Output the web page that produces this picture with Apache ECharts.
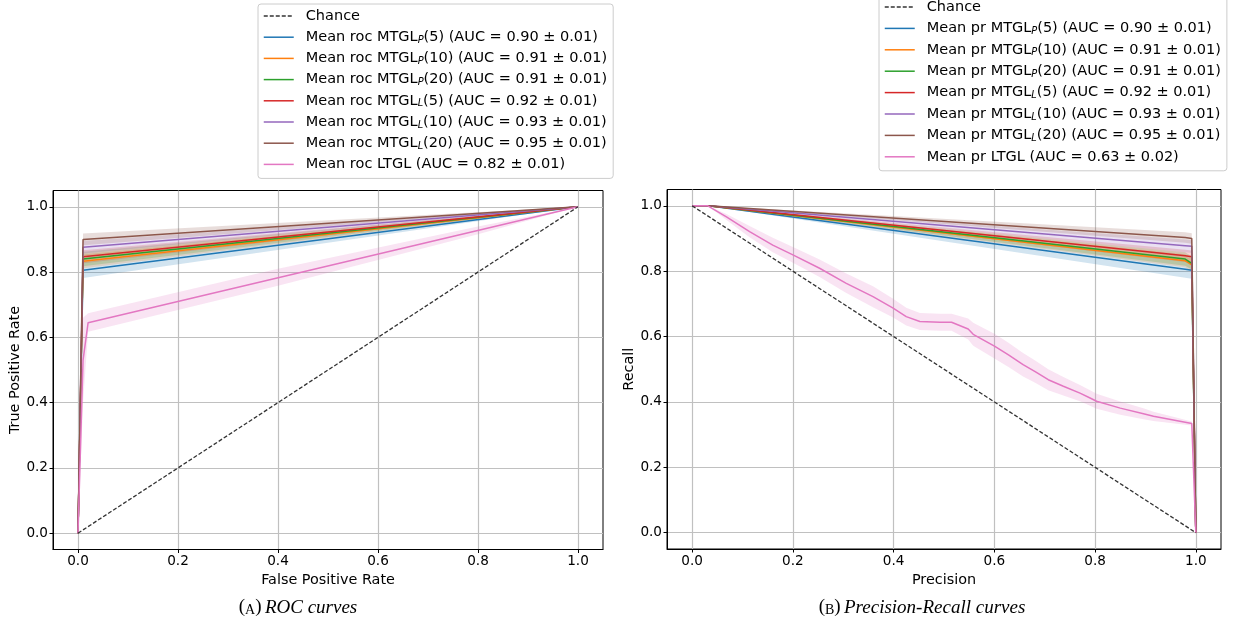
<!DOCTYPE html>
<html>
<head>
<meta charset="utf-8">
<script src="https://cdn.jsdelivr.net/npm/echarts@6/dist/echarts.min.js"></script>
<style>
html,body{margin:0;padding:0;background:#fff;}
#chart{width:1242px;height:628px;}
</style>
</head>
<body>
<div id="chart"></div>
<script>
// ---------------- data ----------------
const TICKS = [0, 0.2, 0.4, 0.6, 0.8, 1.0];
const COLORS = ['#1f77b4', '#ff7f0e', '#2ca02c', '#d62728', '#9467bd', '#8c564b', '#e377c2'];

const ROC_NAMES = [
  'Mean roc MTGL_P(5) (AUC = 0.90 ± 0.01)',
  'Mean roc MTGL_P(10) (AUC = 0.91 ± 0.01)',
  'Mean roc MTGL_P(20) (AUC = 0.91 ± 0.01)',
  'Mean roc MTGL_L(5) (AUC = 0.92 ± 0.01)',
  'Mean roc MTGL_L(10) (AUC = 0.93 ± 0.01)',
  'Mean roc MTGL_L(20) (AUC = 0.95 ± 0.01)',
  'Mean roc LTGL (AUC = 0.82 ± 0.01)'
];
const PR_NAMES = [
  'Mean pr MTGL_P(5) (AUC = 0.90 ± 0.01)',
  'Mean pr MTGL_P(10) (AUC = 0.91 ± 0.01)',
  'Mean pr MTGL_P(20) (AUC = 0.91 ± 0.01)',
  'Mean pr MTGL_L(5) (AUC = 0.92 ± 0.01)',
  'Mean pr MTGL_L(10) (AUC = 0.93 ± 0.01)',
  'Mean pr MTGL_L(20) (AUC = 0.95 ± 0.01)',
  'Mean pr LTGL (AUC = 0.63 ± 0.02)'
];

// Chance lines
const CHANCE_X = [0, 1];
const CHANCE_ROC_Y = [0, 1];
const CHANCE_PR_Y = [1, 0];

// ROC: MTGL curves (false positive rate -> true positive rate)
const ROC_MTGL_X = [0, 0.0101, 1];
const ROC_P5  = [0, 0.806, 1];
const ROC_P10 = [0, 0.833, 1];
const ROC_P20 = [0, 0.840, 1];
const ROC_L5  = [0, 0.847, 1];
const ROC_L10 = [0, 0.876, 1];
const ROC_L20 = [0, 0.900, 1];
const ROC_P5_LO  = [0, 0.782, 1], ROC_P5_HI  = [0, 0.830, 1];
const ROC_P10_LO = [0, 0.812, 1], ROC_P10_HI = [0, 0.854, 1];
const ROC_P20_LO = [0, 0.818, 1], ROC_P20_HI = [0, 0.862, 1];
const ROC_L5_LO  = [0, 0.827, 1], ROC_L5_HI  = [0, 0.867, 1];
const ROC_L10_LO = [0, 0.857, 1], ROC_L10_HI = [0, 0.895, 1];
const ROC_L20_LO = [0, 0.882, 1], ROC_L20_HI = [0, 0.918, 1];
// ROC: LTGL
const ROC_LTGL_X = [0, 0.0101, 0.0202, 1];
const ROC_LTGL   = [0, 0.53, 0.645, 1];
const ROC_LTGL_BAND_X = [0, 0.0101, 0.0202, 0.4, 0.8, 1];
const ROC_LTGL_LO = [0, 0.40, 0.617, 0.758, 0.916, 1];
const ROC_LTGL_HI = [0, 0.66, 0.674, 0.810, 0.940, 1];

// PR: MTGL curves (precision -> recall)
const PR_MTGL_X = [0, 0.032, 0.979, 0.992, 1.0];
const PR_P5  = [1, 1, 0.806, 0.803, 0];
const PR_P10 = [1, 1, 0.832, 0.819, 0];
const PR_P20 = [1, 1, 0.837, 0.824, 0];
const PR_L5  = [1, 1, 0.847, 0.844, 0];
const PR_L10 = [1, 1, 0.878, 0.876, 0];
const PR_L20 = [1, 1, 0.903, 0.900, 0];
const PR_P5_LO  = [1, 1, 0.780, 0.777, 0], PR_P5_HI  = [1, 1, 0.830, 0.828, 0];
const PR_P10_LO = [1, 1, 0.812, 0.800, 0], PR_P10_HI = [1, 1, 0.852, 0.840, 0];
const PR_P20_LO = [1, 1, 0.817, 0.805, 0], PR_P20_HI = [1, 1, 0.858, 0.845, 0];
const PR_L5_LO  = [1, 1, 0.828, 0.825, 0], PR_L5_HI  = [1, 1, 0.866, 0.863, 0];
const PR_L10_LO = [1, 1, 0.858, 0.856, 0], PR_L10_HI = [1, 1, 0.897, 0.895, 0];
const PR_L20_LO = [1, 1, 0.887, 0.884, 0], PR_L20_HI = [1, 1, 0.919, 0.916, 0];
// PR: LTGL
const PR_LTGL_X = [0, 0.031, 0.068, 0.114, 0.160, 0.200, 0.253, 0.306, 0.359, 0.399, 0.425, 0.452, 0.492, 0.515, 0.548, 0.558, 0.601, 0.628, 0.657, 0.681, 0.707, 0.737, 0.770, 0.790, 0.803, 0.850, 0.896, 0.916, 0.992, 1.0];
const PR_LTGL    = [1.0, 1.0, 0.966, 0.921, 0.880, 0.850, 0.809, 0.763, 0.722, 0.687, 0.661, 0.646, 0.644, 0.644, 0.623, 0.607, 0.570, 0.544, 0.514, 0.493, 0.468, 0.448, 0.427, 0.412, 0.402, 0.381, 0.364, 0.356, 0.334, 0.0];
const PR_LTGL_HI = [1.0, 1.0, 0.975, 0.938, 0.902, 0.874, 0.836, 0.793, 0.754, 0.716, 0.688, 0.672, 0.670, 0.670, 0.655, 0.642, 0.608, 0.581, 0.550, 0.527, 0.500, 0.476, 0.452, 0.436, 0.425, 0.401, 0.381, 0.370, 0.340, 0.0];
const PR_LTGL_LO = [1.0, 1.0, 0.957, 0.904, 0.858, 0.826, 0.782, 0.733, 0.690, 0.658, 0.634, 0.620, 0.618, 0.618, 0.591, 0.572, 0.532, 0.507, 0.478, 0.459, 0.436, 0.420, 0.402, 0.388, 0.379, 0.361, 0.347, 0.342, 0.328, 0.0];

// ---------------- chart ----------------
const FONT = 'DejaVu Sans';
const pairs = (xs, ys) => xs.map((x, i) => [x, ys[i]]);

function lineSeries(name, xs, ys, color, gi, extra) {
  return Object.assign({
    type: 'line', name: name, xAxisIndex: gi, yAxisIndex: gi,
    data: pairs(xs, ys), symbol: 'none', showSymbol: false, smooth: false,
    lineStyle: { color: color, width: 1.5 }, itemStyle: { color: color },
    z: 3, animation: false, silent: true
  }, extra || {});
}
function bandSeries(xs, lo, hi, color, gi) {
  return {
    type: 'custom', xAxisIndex: gi, yAxisIndex: gi, clip: true, silent: true, z: 2,
    data: [[xs[0], lo[0]]], animation: false,
    renderItem: function (params, api) {
      const pts = [];
      for (let i = 0; i < xs.length; i++) pts.push(api.coord([xs[i], hi[i]]));
      for (let i = xs.length - 1; i >= 0; i--) pts.push(api.coord([xs[i], lo[i]]));
      return { type: 'polygon', shape: { points: pts }, style: { fill: color, opacity: 0.2 } };
    }
  };
}

const rocCurves = [ROC_P5, ROC_P10, ROC_P20, ROC_L5, ROC_L10, ROC_L20];
const rocLo = [ROC_P5_LO, ROC_P10_LO, ROC_P20_LO, ROC_L5_LO, ROC_L10_LO, ROC_L20_LO];
const rocHi = [ROC_P5_HI, ROC_P10_HI, ROC_P20_HI, ROC_L5_HI, ROC_L10_HI, ROC_L20_HI];
const prCurves = [PR_P5, PR_P10, PR_P20, PR_L5, PR_L10, PR_L20];
const prLo = [PR_P5_LO, PR_P10_LO, PR_P20_LO, PR_L5_LO, PR_L10_LO, PR_L20_LO];
const prHi = [PR_P5_HI, PR_P10_HI, PR_P20_HI, PR_L5_HI, PR_L10_HI, PR_L20_HI];

const series = [];
const chanceStyle = { lineStyle: { color: '#333', width: 1.3, type: [4, 2] }, itemStyle: { color: '#333' }, z: 4 };
series.push(lineSeries('Chance', CHANCE_X, CHANCE_ROC_Y, '#333', 0, chanceStyle));
for (let k = 0; k < 6; k++) {
  series.push(bandSeries(ROC_MTGL_X, rocLo[k], rocHi[k], COLORS[k], 0));
  series.push(lineSeries(ROC_NAMES[k], ROC_MTGL_X, rocCurves[k], COLORS[k], 0));
}
series.push(bandSeries(ROC_LTGL_BAND_X, ROC_LTGL_LO, ROC_LTGL_HI, COLORS[6], 0));
series.push(lineSeries(ROC_NAMES[6], ROC_LTGL_X, ROC_LTGL, COLORS[6], 0));

series.push(lineSeries('Chance', CHANCE_X, CHANCE_PR_Y, '#333', 1, chanceStyle));
for (let k = 0; k < 6; k++) {
  series.push(bandSeries(PR_MTGL_X, prLo[k], prHi[k], COLORS[k], 1));
  series.push(lineSeries(PR_NAMES[k], PR_MTGL_X, prCurves[k], COLORS[k], 1));
}
series.push(bandSeries(PR_LTGL_X, PR_LTGL_LO, PR_LTGL_HI, COLORS[6], 1));
series.push(lineSeries(PR_NAMES[6], PR_LTGL_X, PR_LTGL, COLORS[6], 1));

const fmt = v => v.toFixed(1);
function xAxis(gi, name) {
  return {
    type: 'value', gridIndex: gi, min: -0.05, max: 1.05,
    name: name, nameLocation: 'middle', nameGap: 20,
    nameTextStyle: { fontFamily: FONT, fontSize: 14.4, color: '#000' },
    axisLine: { show: true, onZero: false, lineStyle: { color: '#000', width: 1 } },
    axisTick: { show: true, inside: false, length: 3.5, customValues: TICKS, lineStyle: { color: '#000', width: 1 } },
    axisLabel: { show: true, customValues: TICKS, formatter: fmt, margin: 5, fontFamily: FONT, fontSize: 13.6, color: '#000' },
    splitLine: { show: true, lineStyle: { color: '#c0c0c0', width: 1.2 } }
  };
}
function yAxis(gi, name) {
  return {
    type: 'value', gridIndex: gi, min: -0.05, max: 1.05,
    name: name, nameLocation: 'middle', nameGap: 31,
    nameTextStyle: { fontFamily: FONT, fontSize: 14.4, color: '#000' },
    axisLine: { show: true, onZero: false, lineStyle: { color: '#000', width: 1 } },
    axisTick: { show: true, inside: false, length: 3.5, customValues: TICKS, lineStyle: { color: '#000', width: 1 } },
    axisLabel: { show: true, customValues: TICKS, formatter: fmt, margin: 5, fontFamily: FONT, fontSize: 13.6, color: '#000' },
    splitLine: { show: true, lineStyle: { color: '#c0c0c0', width: 1.2 } }
  };
}

const legendRich = {
  s: { fontFamily: FONT, fontSize: 9.8, fontStyle: 'italic', color: '#000', verticalAlign: 'bottom', lineHeight: 9 }
};
function legend(names, left, top, gap) {
  return {
    orient: 'vertical', left: left, top: top,
    data: ['Chance'].concat(names),
    itemWidth: 30, itemHeight: 14, itemGap: gap,
    padding: [4, 6, 6, 5],
    backgroundColor: '#fff', borderColor: '#cccccc', borderWidth: 1, borderRadius: 3,
    selectedMode: false,
    itemStyle: { opacity: 0 },
    lineStyle: { width: 1.5 },
    formatter: n => n.replace(/_(P|L)/, '{s|$1}'),
    textStyle: { fontFamily: FONT, fontSize: 14.5, color: '#000', lineHeight: 16, padding: [0, 0, 0, 7], rich: legendRich }
  };
}

const captionRich = {
  p: { fontFamily: 'Liberation Serif', fontSize: 19, color: '#000', verticalAlign: 'bottom', lineHeight: 22 },
  sc: { fontFamily: 'Liberation Serif', fontSize: 14, color: '#000', verticalAlign: 'bottom', lineHeight: 17 },
  i: { fontFamily: 'Liberation Serif', fontSize: 19, fontStyle: 'italic', color: '#000', verticalAlign: 'bottom', lineHeight: 22 }
};

const option = {
  animation: false,
  backgroundColor: '#fff',
  grid: [
    { left: 53, top: 190.5, width: 550, height: 359, show: true, borderColor: '#000', borderWidth: 1, containLabel: false },
    { left: 667, top: 189.5, width: 554, height: 359.5, show: true, borderColor: '#000', borderWidth: 1, containLabel: false }
  ],
  xAxis: [xAxis(0, 'False Positive Rate'), xAxis(1, 'Precision')],
  yAxis: [yAxis(0, 'True Positive Rate'), yAxis(1, 'Recall')],
  legend: [legend(ROC_NAMES, 258, 4, 5.2), legend(PR_NAMES, 879, -5, 5.4)],
  graphic: [
    { type: 'text', x: 298, y: 606, style: { text: '{p|(}{sc|A}{p|)} {i|ROC curves}', rich: captionRich, align: 'center', verticalAlign: 'middle' } },
    { type: 'text', x: 922, y: 606, style: { text: '{p|(}{sc|B}{p|)} {i|Precision-Recall curves}', rich: captionRich, align: 'center', verticalAlign: 'middle' } }
  ],
  series: series
};

const chart = echarts.init(document.getElementById('chart'), null, { renderer: 'canvas' });
chart.setOption(option);
</script>
</body>
</html>
